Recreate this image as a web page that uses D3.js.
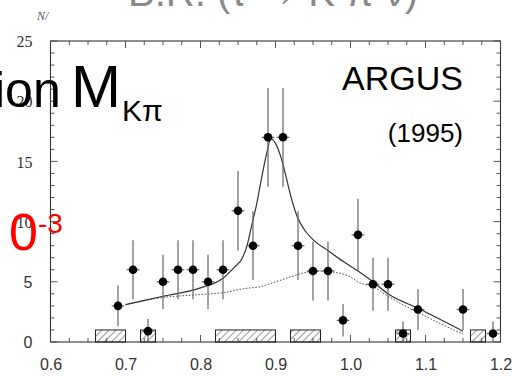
<!DOCTYPE html>
<html>
<head>
<meta charset="utf-8">
<script src="https://cdn.jsdelivr.net/npm/d3@7"></script>
<style>
  html, body { margin: 0; padding: 0; background: #fff; }
  svg { display: block; }
</style>
</head>
<body>
<svg id="chart" width="522" height="378"></svg>
<script>
// K-pi invariant mass spectrum, ARGUS (1995)
const massBins = [0.69, 0.71, 0.73, 0.75, 0.77, 0.79, 0.81, 0.83, 0.85, 0.87, 0.89, 0.91,
                  0.93, 0.95, 0.97, 0.99, 1.01, 1.03, 1.05, 1.07, 1.09, 1.15, 1.19];
const events   = [3, 6, 0.9, 5, 6, 6, 5, 6, 10.9, 8, 17, 17,
                  8, 5.9, 5.9, 1.8, 8.9, 4.8, 4.8, 0.7, 2.7, 2.7, 0.7];
const errors   = [1.7, 2.45, 1.0, 2.25, 2.45, 2.45, 2.25, 2.45, 3.3, 2.85, 4.1, 4.1,
                  2.85, 2.45, 2.45, 1.35, 3.0, 2.2, 2.2, 1.0, 1.7, 1.7, 1.0];
const binHalfWidth = 0.0085;

// hatched background estimate
const bgLo     = [0.66, 0.72, 0.82, 0.92, 1.06, 1.16];
const bgHi     = [0.70, 0.74, 0.90, 0.96, 1.08, 1.18];
const bgCounts = [1, 1, 1, 1, 1, 1];

// total fit (solid)
const fitX = [0.70, 0.75, 0.80, 0.83, 0.845, 0.856, 0.862, 0.868, 0.875, 0.882, 0.888, 0.894,
              0.900, 0.907, 0.913, 0.920, 0.929, 0.940, 0.950, 0.970, 0.990, 1.010, 1.030,
              1.050, 1.090, 1.150];
const fitY = [3.1, 3.8, 4.5, 5.3, 6.2, 7.0, 8.0, 9.6, 11.5, 13.8, 15.6, 16.9,
              16.5, 15.4, 14.0, 12.2, 10.4, 9.2, 8.5, 7.6, 6.7, 5.9, 5.0,
              4.0, 2.8, 0.9];

// non-resonant contribution (dotted)
const nrX = [0.70, 0.75, 0.79, 0.83, 0.86, 0.88, 0.893, 0.920, 0.942, 0.960, 0.978, 1.000,
             1.011, 1.030, 1.050, 1.090, 1.150];
const nrY = [3.1, 3.7, 3.9, 4.1, 4.45, 4.6, 4.85, 5.4, 5.8, 5.9, 5.8, 5.4,
             4.95, 4.6, 3.8, 2.45, 0.65];

const xTickValues = [0.6, 0.7, 0.8, 0.9, 1.0, 1.1, 1.2];
const xTickLabels = ["0.6", "0.7", "0.8", "0.9", "1.0", "1.1", "1.2"];
const yTickValues = [0, 5, 10, 15, 20, 25];
const yTickLabels = ["0", "5", "10", "15", "20", "25"];

const svg = d3.select("#chart");
const plotLeft = 50.5, plotRight = 500.5, plotTop = 41, plotBottom = 342;

const x = d3.scaleLinear().domain([0.6, 1.2]).range([plotLeft, plotRight]);
const y = d3.scaleLinear().domain([0, 25]).range([plotBottom, plotTop]);

// large heading running off the top edge
svg.append("text")
  .attr("x", 128).attr("y", 6)
  .attr("font-family", "Liberation Sans, Arial, sans-serif")
  .attr("font-size", 40)
  .attr("fill", "#8a8a8a")
  .text("B.R. (τ → K π ν)");

// frame
svg.append("rect")
  .attr("x", plotLeft).attr("y", plotTop)
  .attr("width", plotRight - plotLeft).attr("height", plotBottom - plotTop)
  .attr("fill", "none").attr("stroke", "#333").attr("stroke-width", 1.1);

// inward ticks on all four sides
const gx = svg.append("g").attr("stroke", "#444").attr("stroke-width", 0.9);
const xMinor = d3.range(0, 25).map(i => 0.6 + i * 0.025);
xMinor.forEach((v, i) => {
  const len = (i % 4 === 0) ? 7 : 4;
  gx.append("line").attr("x1", x(v)).attr("x2", x(v)).attr("y1", plotBottom).attr("y2", plotBottom - len);
  gx.append("line").attr("x1", x(v)).attr("x2", x(v)).attr("y1", plotTop).attr("y2", plotTop + len);
});
const yMinor = d3.range(0, 26);
yMinor.forEach(v => {
  const len = (v % 5 === 0) ? 7 : 4;
  gx.append("line").attr("x1", plotLeft).attr("x2", plotLeft + len).attr("y1", y(v)).attr("y2", y(v));
  gx.append("line").attr("x1", plotRight).attr("x2", plotRight - len).attr("y1", y(v)).attr("y2", y(v));
});

// x tick labels
const xAxis = d3.axisBottom(x).tickValues(xTickValues)
  .tickFormat((d, i) => xTickLabels[i]).tickSize(0).tickPadding(0);
const xg = svg.append("g").attr("transform", `translate(0,${plotBottom})`).call(xAxis);
xg.select(".domain").remove();
xg.selectAll("text")
  .attr("dy", null).attr("y", 28)
  .attr("font-family", "Liberation Sans, Arial, sans-serif")
  .attr("font-size", 16).attr("fill", "#333");

// y tick labels
const yAxis = d3.axisLeft(y).tickValues(yTickValues)
  .tickFormat((d, i) => yTickLabels[i]).tickSize(0).tickPadding(18);
const yg = svg.append("g").attr("transform", `translate(${plotLeft},0)`).call(yAxis);
yg.select(".domain").remove();
yg.selectAll("text")
  .attr("dy", "0.35em")
  .attr("font-family", d => d >= 10 ? "Liberation Serif, Times New Roman, serif" : "Liberation Sans, Arial, sans-serif")
  .attr("font-size", 16)
  .attr("fill", "#333");

// axis unit label
svg.append("text")
  .attr("x", 37).attr("y", 20)
  .attr("font-family", "Liberation Serif, Times New Roman, serif")
  .attr("font-style", "italic").attr("font-size", 12).attr("fill", "#555")
  .text("N/");

// hatch pattern
const defs = svg.append("defs");
const pat = defs.append("pattern")
  .attr("id", "hatch").attr("patternUnits", "userSpaceOnUse")
  .attr("width", 5).attr("height", 5)
  .attr("patternTransform", "rotate(45)");
pat.append("line").attr("x1", 0).attr("y1", 0).attr("x2", 0).attr("y2", 5)
  .attr("stroke", "#333").attr("stroke-width", 1);

svg.append("g").selectAll("rect")
  .data(bgLo.map((lo, i) => ({ lo, hi: bgHi[i], n: bgCounts[i] })))
  .join("rect")
  .attr("x", d => x(d.lo)).attr("width", d => x(d.hi) - x(d.lo))
  .attr("y", d => y(d.n)).attr("height", d => y(0) - y(d.n))
  .attr("fill", "url(#hatch)").attr("stroke", "#222").attr("stroke-width", 1);

// curves
const line = d3.line().x(d => x(d[0])).y(d => y(d[1])).curve(d3.curveMonotoneX);
svg.append("path")
  .datum(nrX.map((v, i) => [v, nrY[i]]))
  .attr("d", line).attr("fill", "none")
  .attr("stroke", "#555").attr("stroke-width", 1).attr("stroke-dasharray", "1.6,1.6");
svg.append("path")
  .datum(fitX.map((v, i) => [v, fitY[i]]))
  .attr("d", line).attr("fill", "none")
  .attr("stroke", "#333").attr("stroke-width", 1.2);

// data points with error bars
const pts = massBins.map((m, i) => ({ m, n: events[i], e: errors[i] }));
const eb = svg.append("g").attr("stroke", "#666").attr("stroke-width", 1.2);
eb.selectAll(".v").data(pts).join("line").attr("class", "v")
  .attr("x1", d => x(d.m)).attr("x2", d => x(d.m))
  .attr("y1", d => y(d.n + d.e)).attr("y2", d => y(Math.max(0, d.n - d.e)));
eb.selectAll(".h").data(pts).join("line").attr("class", "h")
  .attr("x1", d => x(d.m - binHalfWidth)).attr("x2", d => x(d.m + binHalfWidth))
  .attr("y1", d => y(d.n)).attr("y2", d => y(d.n));
svg.append("g").selectAll("circle").data(pts).join("circle")
  .attr("cx", d => x(d.m)).attr("cy", d => y(d.n)).attr("r", 4.3)
  .attr("fill", "#000");

// overlaid annotations
const sans = "Liberation Sans, Arial, sans-serif";
const t1 = svg.append("text").attr("y", 107)
  .attr("font-family", sans).attr("font-size", 50).attr("fill", "#000");
t1.append("tspan").attr("x", -6).text("ion");
t1.append("tspan").attr("x", 71).attr("font-size", 60).text("M");
t1.append("tspan").attr("x", 122).attr("font-size", 30).attr("dy", 14).text("Kπ");

svg.append("text").attr("x", 463).attr("y", 90).attr("text-anchor", "end")
  .attr("font-family", sans).attr("font-size", 34).attr("fill", "#000").text("ARGUS");
svg.append("text").attr("x", 463).attr("y", 142).attr("text-anchor", "end")
  .attr("font-family", sans).attr("font-size", 26).attr("fill", "#000").text("(1995)");

const t2 = svg.append("text").attr("x", 9).attr("y", 250)
  .attr("font-family", sans).attr("font-size", 52).attr("fill", "#ff0000");
t2.append("tspan").text("0");
t2.append("tspan").attr("font-size", 28).attr("dy", -17).text("-3");
</script>
</body>
</html>
